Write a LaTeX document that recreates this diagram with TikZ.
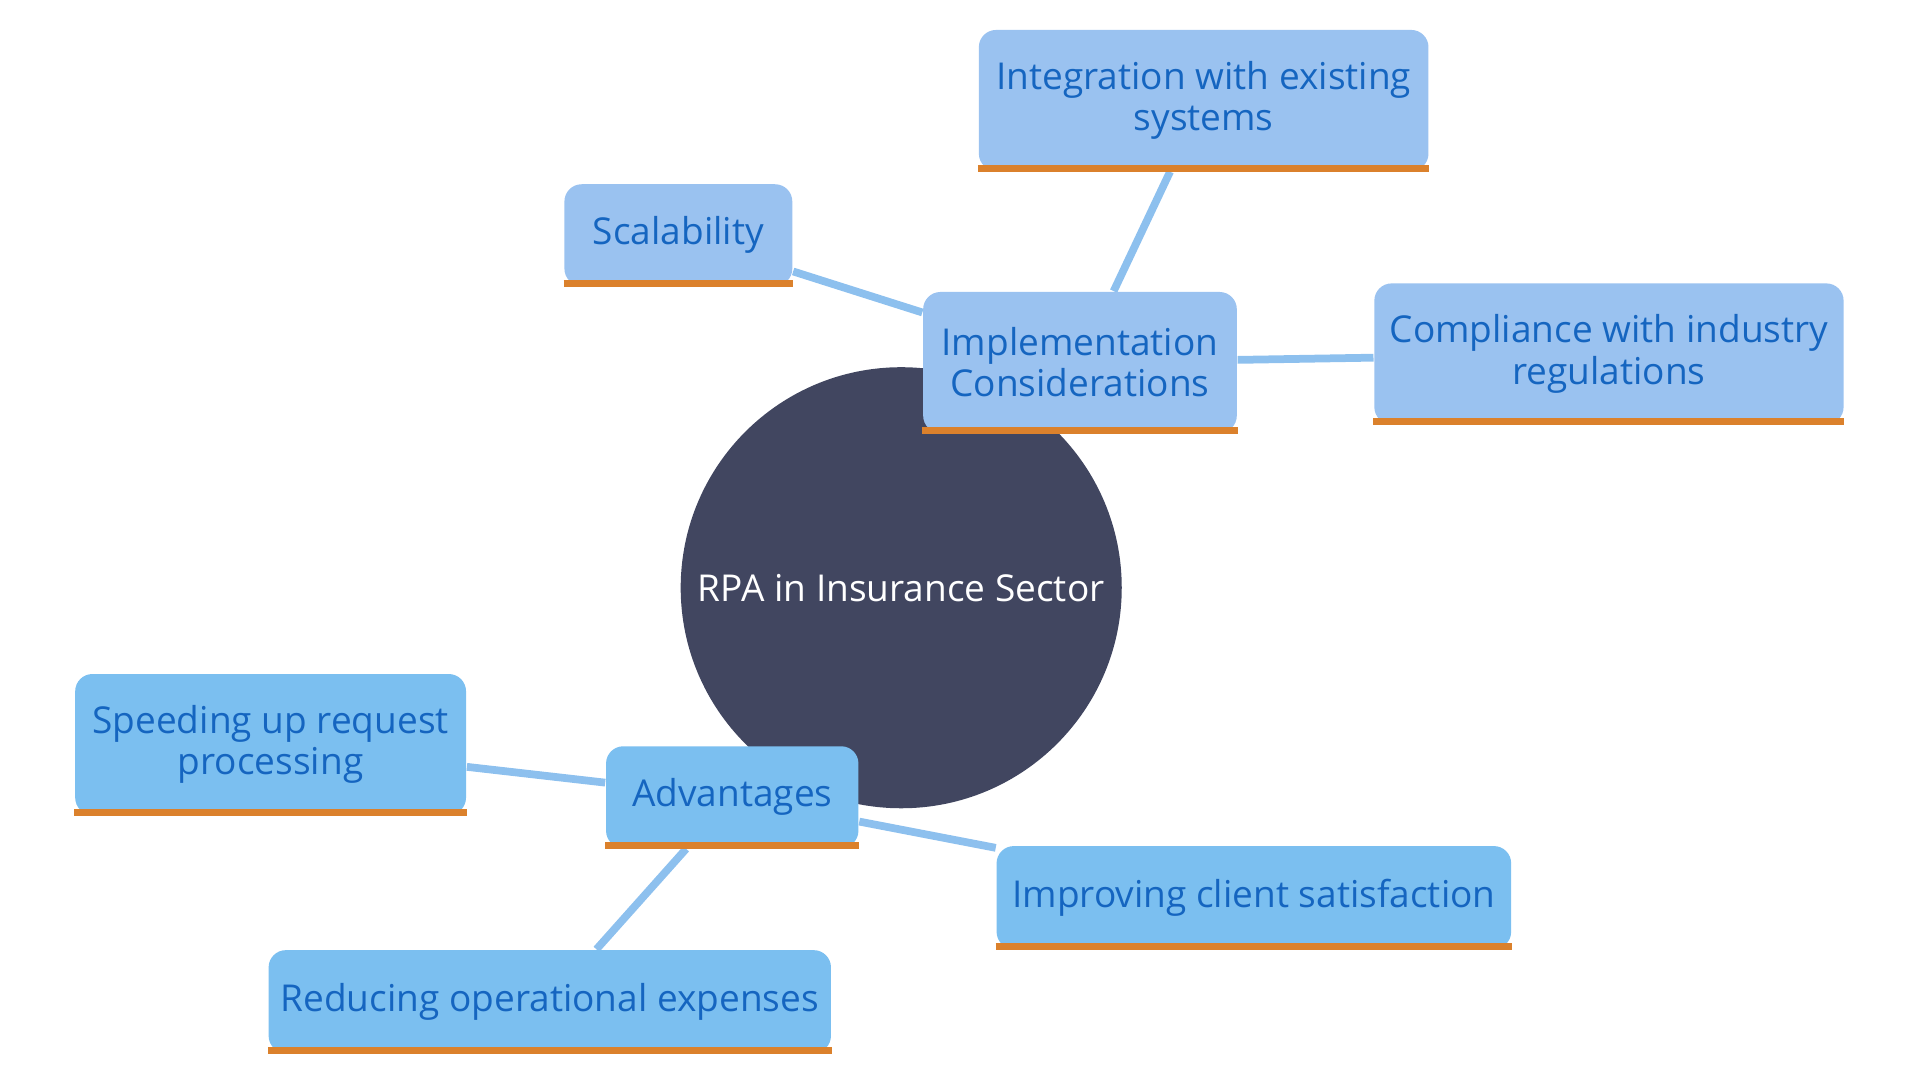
\documentclass[tikz,border=0pt]{standalone}
\usepackage{fontspec}
\setmainfont{Open Sans}
\usetikzlibrary{backgrounds}
\definecolor{hub}{HTML}{414660}
\definecolor{topfill}{HTML}{9AC2F0}
\definecolor{lowfill}{HTML}{7BBFF0}
\definecolor{ink}{HTML}{1565C0}
\definecolor{bar}{HTML}{DB812C}
\definecolor{link}{HTML}{8DC0EE}
\tikzset{
  box/.style={fill=#1, rounded corners=4pt, text=ink, font=\fontsize{8.6}{9.6}\selectfont,
    align=center, inner sep=0pt},
  bar/.style={draw=bar, line width=1.6pt},
  link/.style={draw=link, line width=1.8pt}
}
\begin{document}
\begin{tikzpicture}[x=0.01cm,y=-0.01cm]
\useasboundingbox (0,0) rectangle (1568,880);
\node (hub) at (736,480) [circle, fill=hub, minimum size=3.6cm, text=white, font=\fontsize{8.6}{9.6}\selectfont] {RPA in Insurance Sector};
\node (impl) at (882,296) [box=topfill, minimum width=2.56cm, minimum height=1.15cm] {Implementation\\Considerations};
	\node (integ) at (983,82) [box=topfill, minimum width=3.67cm, minimum height=1.15cm] {Integration with existing\\systems};
	\node (scal) at (554,192) [box=topfill, minimum width=1.86cm, minimum height=0.83cm] {Scalability};
	\node (compl) at (1314,289) [box=topfill, minimum width=3.83cm, minimum height=1.15cm] {Compliance with industry\\regulations};
\node (adv) at (598,651) [box=lowfill, minimum width=2.06cm, minimum height=0.83cm] {Advantages};
	\node (speed) at (221,608) [box=lowfill, minimum width=3.19cm, minimum height=1.15cm] {Speeding up request\\processing};
	\node (client) at (1024,733) [box=lowfill, minimum width=4.2cm, minimum height=0.84cm] {Improving client satisfaction};
	\node (cost) at (449,818) [box=lowfill, minimum width=4.59cm, minimum height=0.84cm] {Reducing operational expenses};
% orange underline of each box
\foreach \b in {impl,integ,scal,compl,adv,speed,client,cost}
	\draw[bar] ([yshift=0.8pt]\b.south west) -- ([yshift=0.8pt]\b.south east);
\begin{scope}[on background layer]
\draw[link] (impl) -- (integ);
\draw[link] (impl) -- (scal);
\draw[link] (impl) -- (compl);
\draw[link] (adv) -- (speed);
\draw[link] (adv) -- (client);
\draw[link] (adv) -- (cost);
\end{scope}
\end{tikzpicture}
\end{document}
